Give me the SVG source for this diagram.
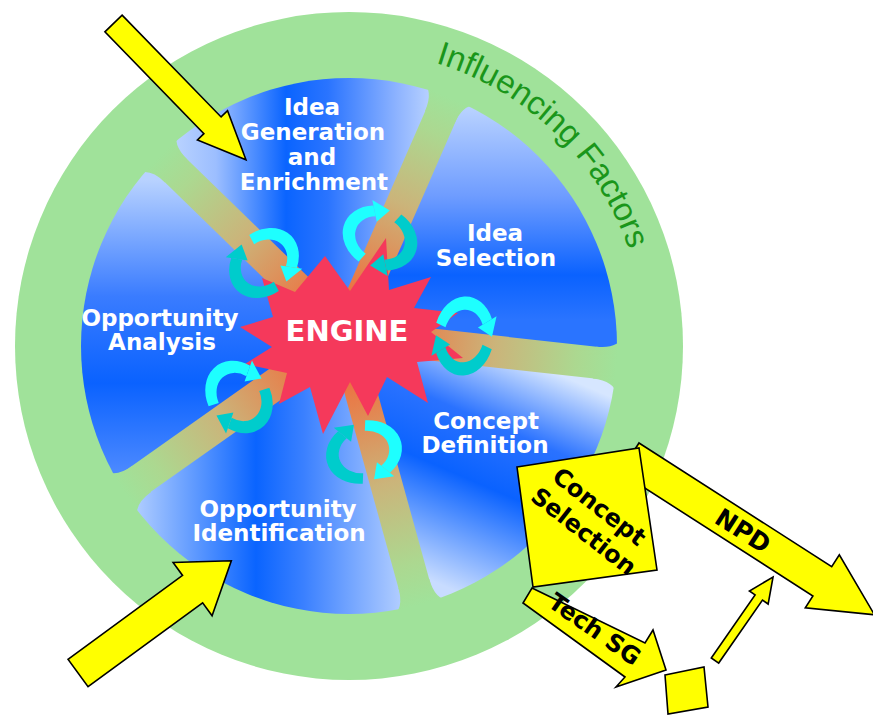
<svg xmlns="http://www.w3.org/2000/svg" width="873" height="715" viewBox="0 0 873 715">
  <style>
    .lbl { font-family: "DejaVu Sans", Verdana, sans-serif; font-weight: bold; font-size: 23px; fill: #FFFFFF; text-anchor: middle; }
    .blk { font-family: "DejaVu Sans", Verdana, sans-serif; font-weight: bold; font-size: 24px; fill: #000000; text-anchor: middle; }
    .big { font-size: 25px; }
    .eng { font-size: 29px; }
    .ring-txt { font-family: "Liberation Sans", Arial, sans-serif; font-size: 33px; fill: #1A961A; }
    .yel { fill: #FFFF00; stroke: #000000; stroke-width: 1.6; stroke-linejoin: miter; }
    .spoke { stroke-width: 32; fill: none; }
    .cyanA { fill: none; stroke: #1EFFFF; stroke-width: 8; }
    .cyanB { fill: none; stroke: #00CCCC; stroke-width: 8; }
  </style>
  <defs>
    <clipPath id="inner"><circle cx="349" cy="346" r="268"/></clipPath>
    <linearGradient id="gIG" gradientUnits="userSpaceOnUse" x1="160" y1="0" x2="440" y2="0">
      <stop offset="0" stop-color="#C4DAFF"/>
      <stop offset="0.2" stop-color="#9CBEFF"/>
      <stop offset="0.45" stop-color="#0A64FF"/>
      <stop offset="0.6" stop-color="#2A74FF"/>
      <stop offset="0.85" stop-color="#8FB4FF"/>
      <stop offset="1" stop-color="#C4DAFF"/>
    </linearGradient>
    <linearGradient id="gIS" gradientUnits="userSpaceOnUse" x1="0" y1="95" x2="0" y2="320">
      <stop offset="0" stop-color="#C4DAFF"/>
      <stop offset="0.45" stop-color="#6E9CFF"/>
      <stop offset="0.8" stop-color="#0A62FF"/>
      <stop offset="1" stop-color="#2A74FF"/>
    </linearGradient>
    <linearGradient id="gCD" gradientUnits="userSpaceOnUse" x1="560" y1="375" x2="465" y2="595">
      <stop offset="0" stop-color="#D6E6FF"/>
      <stop offset="0.3" stop-color="#2A72FF"/>
      <stop offset="0.55" stop-color="#0A62FF"/>
      <stop offset="1" stop-color="#C8DCFF"/>
    </linearGradient>
    <linearGradient id="gOI" gradientUnits="userSpaceOnUse" x1="130" y1="0" x2="410" y2="0">
      <stop offset="0" stop-color="#B8D2FF"/>
      <stop offset="0.45" stop-color="#0A64FF"/>
      <stop offset="0.62" stop-color="#3A80FF"/>
      <stop offset="1" stop-color="#BCD4FF"/>
    </linearGradient>
    <linearGradient id="gOA" gradientUnits="userSpaceOnUse" x1="0" y1="180" x2="0" y2="470">
      <stop offset="0" stop-color="#B8D2FF"/>
      <stop offset="0.4" stop-color="#3A7CFF"/>
      <stop offset="0.7" stop-color="#0A62FF"/>
      <stop offset="1" stop-color="#4A88FF"/>
    </linearGradient>
    <!-- spoke shading: ring green at the rim, orange at the hub -->
    <linearGradient id="sp1" gradientUnits="userSpaceOnUse" x1="160.4" y1="155.6" x2="345" y2="335">
      <stop offset="0" stop-color="#A0E29A"/><stop offset="0.15" stop-color="#ACD890"/><stop offset="0.45" stop-color="#CBB47A"/><stop offset="0.75" stop-color="#E6804C"/><stop offset="1" stop-color="#F45A30"/>
    </linearGradient>
    <linearGradient id="sp2" gradientUnits="userSpaceOnUse" x1="448.5" y1="97.1" x2="345" y2="335">
      <stop offset="0" stop-color="#A0E29A"/><stop offset="0.15" stop-color="#ACD890"/><stop offset="0.45" stop-color="#CBB47A"/><stop offset="0.75" stop-color="#E6804C"/><stop offset="1" stop-color="#F45A30"/>
    </linearGradient>
    <linearGradient id="sp3" gradientUnits="userSpaceOnUse" x1="616.4" y1="365" x2="345" y2="335">
      <stop offset="0" stop-color="#A0E29A"/><stop offset="0.15" stop-color="#ACD890"/><stop offset="0.45" stop-color="#CBB47A"/><stop offset="0.75" stop-color="#E6804C"/><stop offset="1" stop-color="#F45A30"/>
    </linearGradient>
    <linearGradient id="sp4" gradientUnits="userSpaceOnUse" x1="419.7" y1="604.6" x2="345" y2="335">
      <stop offset="0" stop-color="#A0E29A"/><stop offset="0.15" stop-color="#ACD890"/><stop offset="0.45" stop-color="#CBB47A"/><stop offset="0.75" stop-color="#E6804C"/><stop offset="1" stop-color="#F45A30"/>
    </linearGradient>
    <linearGradient id="sp5" gradientUnits="userSpaceOnUse" x1="123.9" y1="491.6" x2="345" y2="335">
      <stop offset="0" stop-color="#A0E29A"/><stop offset="0.15" stop-color="#ACD890"/><stop offset="0.45" stop-color="#CBB47A"/><stop offset="0.75" stop-color="#E6804C"/><stop offset="1" stop-color="#F45A30"/>
    </linearGradient>
    <!-- two-part rotation loop -->
    <g id="spin">
      <path class="cyanB" d="M 19.32,5.18 A 20 20 0 0 1 -17.32,10"/>
      <polygon fill="#00CCCC" points="-22.32,1.34 -24.25,14 -10.39,6"/>
      <path class="cyanA" d="M -19.32,-5.18 A 20 20 0 0 1 17.32,-10"/>
      <polygon fill="#1EFFFF" points="22.32,-1.34 24.25,-14 10.39,-6"/>
    </g>
    <!-- baseline arcs for the ring caption (radius 296 about the ring centre) -->
    <path id="ringArc1" d="M 435.5,62.9 A 296 296 0 0 1 574.8,154.5" fill="none"/>
    <path id="ringArc2" d="M 574.8,154.5 A 296 296 0 0 1 640.5,294.6" fill="none"/>
  </defs>

  <rect width="873" height="715" fill="#FFFFFF"/>

  <!-- outer ring -->
  <g id="ring">
    <circle cx="349" cy="346" r="334" fill="#A0E29A"/>
    <text class="ring-txt"><textPath href="#ringArc1">Influencing</textPath></text>
    <text class="ring-txt"><textPath href="#ringArc2">Factors</textPath></text>
  </g>

  <!-- process segments -->
  <g clip-path="url(#inner)">
    <g id="seg-concept-definition"><path d="M 345,335 L 643.2,367.9 A 300 300 0 0 1 425.2,624.1 Z" fill="url(#gCD)"/></g>
    <g id="seg-opportunity-identification"><path d="M 345,335 L 425.2,624.1 A 300 300 0 0 1 100.2,508.3 Z" fill="url(#gOI)"/></g>
    <g id="seg-opportunity-analysis"><path d="M 345,335 L 100.2,508.3 A 300 300 0 0 1 129.9,125.9 Z" fill="url(#gOA)"/></g>
    <g id="seg-idea-generation"><path d="M 345,335 L 129.9,125.9 A 300 300 0 0 1 464.6,59.9 Z" fill="url(#gIG)"/></g>
    <g id="seg-idea-selection"><path d="M 345,335 L 464.6,59.9 A 300 300 0 0 1 643.2,367.9 Z" fill="url(#gIS)"/></g>
    <!-- spokes -->
    <g id="spokes">
      <line class="spoke" stroke="url(#sp1)" x1="345" y1="335" x2="130" y2="126"/>
      <line class="spoke" stroke="url(#sp2)" x1="345" y1="335" x2="465" y2="60"/>
      <line class="spoke" stroke="url(#sp3)" x1="345" y1="335" x2="644" y2="368"/>
      <line class="spoke" stroke="url(#sp4)" x1="345" y1="335" x2="425" y2="624"/>
      <line class="spoke" stroke="url(#sp5)" x1="345" y1="335" x2="100" y2="508"/>
    </g>
  </g>
  <!-- rounded joints where the spokes meet the ring -->
  <g id="spoke-joints">
    <path fill="url(#sp1)" d="M 187.3,159.5 Q 171.6,144.1 178.4,131.3 L 167,120.2 L 125.2,163.2 L 136.6,174.3 Q 149.3,167.1 165,182.4 Z"/>
    <path fill="url(#sp2)" d="M 454.4,123.7 Q 463.2,103.5 477.6,105.4 L 484,90.7 L 429,66.8 L 422.6,81.5 Q 433.8,90.7 425.1,110.9 Z"/>
    <path fill="url(#sp3)" d="M 592.8,378.5 Q 614.6,380.9 617.1,395.3 L 633,397 L 639.6,337.4 L 623.7,335.6 Q 618.2,349.1 596.3,346.7 Z"/>
    <path fill="url(#sp4)" d="M 398.4,587.7 Q 404.3,608.9 391.9,616.5 L 396.1,631.9 L 454,615.9 L 449.7,600.5 Q 435.1,600.3 429.3,579.1 Z"/>
    <path fill="url(#sp5)" d="M 132.6,465.8 Q 114.7,478.5 103.3,469.4 L 90.2,478.7 L 124.9,527.6 L 138,518.4 Q 133.1,504.7 151.1,491.9 Z"/>
  </g>

  <!-- engine -->
  <g id="engine">
    <polygon fill="#F5395B" points="325,256 350,291 386,238 389,290 431,277 414,308 458,313 431,332 463,358 417,362 428,403 387,377 368,416 350,382 323,434 310,387 279,404 287,373 245,364 272,347 240,327 273,317 262,278 295,292"/>
    <text class="lbl eng" x="347" y="341">ENGINE</text>
  </g>

  <!-- rotation loops on the spokes -->
  <g id="loops">
    <use href="#spin" transform="translate(264,263) rotate(44) scale(1.3,1.6)"/>
    <use href="#spin" transform="translate(380,238) rotate(-66) scale(1.3,1.6)"/>
    <use href="#spin" transform="translate(464,336) rotate(6) scale(1.25,1.65)"/>
    <use href="#spin" transform="translate(239,397) rotate(-35) scale(1.3,1.6)"/>
    <use href="#spin" transform="translate(364,452) rotate(74) scale(1.3,1.6)"/>
  </g>

  <!-- segment labels -->
  <g id="label-idea-generation">
    <text class="lbl" x="312" y="115">Idea</text>
    <text class="lbl" x="313" y="140">Generation</text>
    <text class="lbl" x="312" y="165">and</text>
    <text class="lbl" x="314" y="190">Enrichment</text>
  </g>
  <g id="label-idea-selection">
    <text class="lbl" x="495" y="241">Idea</text>
    <text class="lbl" x="496" y="266">Selection</text>
  </g>
  <g id="label-opportunity-analysis">
    <text class="lbl" x="160" y="326">Opportunity</text>
    <text class="lbl" x="162" y="350">Analysis</text>
  </g>
  <g id="label-concept-definition">
    <text class="lbl" x="486" y="429">Concept</text>
    <text class="lbl" x="485" y="453">Definition</text>
  </g>
  <g id="label-opportunity-identification">
    <text class="lbl" x="278" y="517">Opportunity</text>
    <text class="lbl" x="279" y="541">Identification</text>
  </g>

  <!-- flow arrows -->
  <g id="connectors">
    <polygon class="yel" transform="translate(113.5,23.5) rotate(45.8)" points="0,-12 142,-12 142,-21 190,0 142,21 142,12 0,12"/>
    <polygon class="yel" transform="translate(78,673) rotate(-36.2)" points="0,-17 142,-17 142,-33 190,0 142,33 142,17 0,17"/>
    <g transform="translate(629.6,457.6) rotate(32.7)">
      <polygon class="yel" points="0,-17.4 229,-17.4 229,-31.5 291,0 229,31.5 229,17.4 0,17.4"/>
      <text class="blk big" x="135" y="9">NPD</text>
    </g>
    <polygon class="yel" points="532,588 645,643 653,630 666,670 616,687 625,677 523,603"/>
    <text class="blk" transform="translate(590,636) rotate(35)" x="0" y="0">Tech SG</text>
    <polygon class="yel" transform="translate(715,660.5) rotate(-55.2)" points="0,-4.5 76.7,-4.5 76.7,-11.4 101.7,0 76.7,11.4 76.7,4.5 0,4.5"/>
  </g>

  <!-- gate boxes -->
  <g id="concept-selection">
    <polygon class="yel" points="517,467 639,448 657,570 533,587"/>
    <g transform="translate(587,524) rotate(38)">
      <text class="blk" x="-1" y="-13">Concept</text>
      <text class="blk" x="2" y="16">Selection</text>
    </g>
  </g>
  <g id="tech-gate">
    <polygon class="yel" points="665,675 704,667 708,707 668,714"/>
  </g>
</svg>
